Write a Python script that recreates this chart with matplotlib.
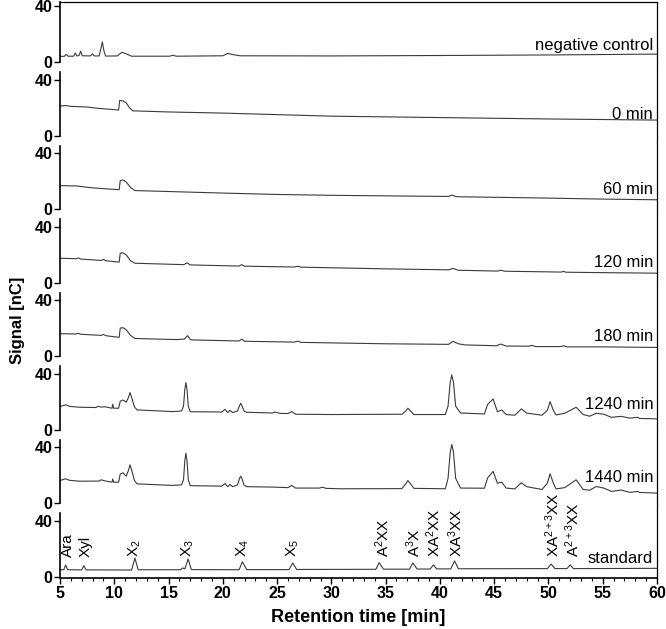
# -*- coding: utf-8 -*-
import matplotlib
matplotlib.use("Agg")
import matplotlib.pyplot as plt

# --- FONTS ---
plt.rcParams["font.family"] = ["Liberation Sans", "DejaVu Sans"]
plt.rcParams["mathtext.fontset"] = "custom"
plt.rcParams["mathtext.rm"] = "Liberation Sans"
plt.rcParams["mathtext.it"] = "Liberation Sans:italic"
plt.rcParams["mathtext.bf"] = "Liberation Sans:bold"

# --- DATA (retention time [min], signal [nC]) ---
rt_neg = [5.0, 5.4, 5.55, 5.75, 6.25, 6.4, 6.55, 6.75, 6.9, 7.05, 7.8, 8.0, 8.15, 8.6, 8.75, 8.9,
          9.05, 9.2, 10.3, 10.5, 10.7, 11.0, 11.6, 15.1, 15.4, 15.7, 20.0, 20.45, 20.9, 21.6,
          30.0, 40.0, 50.0, 60.0]
sig_neg = [4.2, 4.2, 5.6, 4.3, 4.3, 6.6, 4.5, 4.8, 7.8, 4.6, 4.5, 6.0, 4.5, 4.5, 9.0, 14.5,
           8.0, 4.4, 4.5, 6.0, 7.0, 6.3, 4.3, 4.3, 5.0, 4.3, 4.6, 6.3, 5.5, 4.6,
           4.5, 4.8, 5.2, 5.8]

rt_0 = [5.0, 5.5, 6.0, 7.5, 8.5, 10.4, 10.5, 10.8, 11.1, 11.4, 11.7, 15.0, 20.0, 30.0, 40.0,
        50.0, 60.0]
sig_0 = [21.2, 21.6, 21.0, 20.5, 19.6, 18.4, 25.2, 24.9, 23.5, 20.0, 17.8, 17.0, 16.2, 14.0,
         13.0, 12.0, 11.2]

rt_60 = [5.0, 6.5, 8.0, 10.45, 10.55, 10.8, 11.1, 11.5, 11.9, 15.0, 20.0, 25.0, 30.0, 35.0,
         40.8, 41.1, 41.5, 45.0, 50.0, 55.0, 60.0]
sig_60 = [16.9, 16.7, 15.3, 14.0, 20.5, 21.0, 19.5, 15.5, 13.4, 12.7, 11.6, 10.6, 10.0, 9.6,
          9.2, 10.2, 9.0, 8.6, 8.0, 7.3, 6.8]

rt_120 = [5.0, 6.5, 6.7, 6.9, 8.8, 9.0, 9.2, 10.45, 10.55, 10.8, 11.1, 11.5, 11.9, 16.4, 16.7,
          17.0, 21.5, 21.75, 22.0, 26.6, 26.9, 27.2, 35.0, 40.8, 41.2, 41.7, 45.3, 45.6, 46.0,
          51.2, 51.4, 51.6, 55.0, 60.0]
sig_120 = [17.6, 17.2, 17.8, 17.0, 16.0, 16.8, 15.8, 14.8, 21.2, 21.5, 20.0, 15.8, 14.0, 13.0,
           14.3, 12.8, 12.0, 13.0, 11.9, 11.3, 11.9, 11.2, 10.0, 9.3, 10.3, 9.0, 8.4, 9.0, 8.3,
           7.7, 8.2, 7.6, 7.3, 6.9]

rt_180 = [5.0, 6.5, 6.7, 6.9, 8.8, 9.0, 9.2, 10.45, 10.55, 10.8, 11.1, 11.5, 11.9, 15.8, 16.2,
          16.45, 16.75, 17.05, 21.5, 21.75, 22.0, 26.6, 26.9, 27.2, 35.0, 40.8, 41.2, 41.7,
          42.3, 45.2, 45.6, 46.1, 48.2, 48.5, 48.8, 51.1, 51.4, 51.7, 55.0, 60.0]
sig_180 = [16.2, 16.0, 16.5, 15.8, 15.0, 15.7, 14.8, 13.6, 20.2, 20.5, 19.0, 15.0, 12.8, 12.0,
           12.3, 12.3, 14.8, 11.8, 11.0, 12.3, 10.8, 10.2, 10.9, 10.0, 9.0, 8.6, 10.7, 9.0,
           8.2, 7.6, 8.8, 7.4, 7.3, 7.9, 7.0, 7.0, 7.6, 6.8, 6.8, 6.4]

rt_1240 = [5.0, 5.5, 5.9, 6.8, 8.3, 8.5, 8.8, 9.1, 9.8, 9.85, 9.95, 10.4, 10.55, 10.8, 11.1,
           11.3, 11.45, 11.65, 11.85, 12.1, 15.4, 16.2, 16.38, 16.5, 16.6, 16.7, 16.82, 17.0,
           19.9, 20.2, 20.45, 20.65, 20.9, 21.35, 21.55, 21.65, 21.75, 21.95, 22.2, 24.6,
           24.8, 25.3, 26.0, 26.35, 26.7, 30.0, 36.5, 36.85, 37.05, 37.3, 37.6, 40.5, 40.75,
           40.95, 41.1, 41.25, 41.45, 41.9, 44.1, 44.4, 44.9, 45.3, 45.7, 46.1, 46.9, 47.5,
           48.0, 49.4, 49.9, 50.15, 50.45, 50.7, 51.5, 52.55, 53.2, 53.8, 54.4, 55.1, 55.8,
           56.7, 57.5, 58.2, 58.4, 60.0]
sig_1240 = [16.7, 17.9, 16.8, 16.2, 16.0, 16.8, 16.3, 16.6, 15.5, 18.3, 15.5, 15.5, 20.5, 21.4,
            19.8, 23.0, 26.7, 22.0, 16.5, 14.3, 13.1, 13.5, 17.0, 29.0, 33.8, 29.0, 17.0, 13.0,
            12.8, 14.7, 12.4, 14.0, 12.4, 13.5, 17.5, 19.0, 17.5, 13.5, 12.6, 12.1,
            12.8, 11.8, 11.7, 13.1, 11.2, 11.0, 11.2, 13.5, 15.5, 13.5, 11.0, 11.0, 17.0,
            34.0, 39.3, 34.0, 17.0, 12.1, 11.4, 18.3, 22.1, 13.0, 14.3, 11.0, 10.5, 15.0,
            12.0, 10.5, 14.0, 20.2, 14.0, 10.7, 11.9, 16.2, 11.0, 9.8, 11.9, 11.2, 9.0,
            9.7, 8.4, 9.0, 8.2, 7.9]

rt_1440 = [5.0, 5.5, 5.9, 6.8, 8.6, 8.8, 9.1, 9.8, 9.85, 9.95, 10.4, 10.55, 10.8, 11.1, 11.3,
           11.45, 11.65, 11.85, 12.1, 15.4, 16.2, 16.38, 16.5, 16.6, 16.7, 16.82, 17.0, 19.9,
           20.2, 20.45, 20.65, 20.9, 21.35, 21.55, 21.65, 21.75, 21.95, 22.2, 24.6, 26.0,
           26.35, 26.7, 28.9, 29.2, 29.5, 30.8, 36.5, 36.85, 37.05, 37.3, 37.6, 40.5, 40.75,
           40.95, 41.1, 41.25, 41.45, 41.9, 44.1, 44.4, 44.9, 45.3, 45.7, 46.1, 46.9, 47.5,
           48.0, 49.4, 49.9, 50.15, 50.45, 50.7, 51.5, 52.55, 53.2, 53.8, 54.4, 55.1, 55.8,
           56.7, 57.5, 58.2, 58.4, 60.0]
sig_1440 = [16.4, 17.6, 16.5, 15.9, 16.0, 16.9, 16.2, 15.2, 17.5, 15.2, 15.2, 21.0, 21.9, 19.5,
            23.5, 27.6, 22.5, 16.5, 14.0, 12.9, 13.3, 17.0, 30.5, 35.9, 30.5, 17.0, 12.7, 12.4,
            14.2, 12.0, 13.5, 12.0, 13.2, 18.0, 19.5, 18.0, 13.2, 12.0, 11.7, 11.3,
            12.9, 11.0, 11.0, 11.6, 10.8, 10.5, 10.6, 14.0, 16.4, 14.0, 10.8, 10.5, 18.0,
            36.5, 42.1, 36.5, 18.0, 11.0, 10.9, 18.3, 22.9, 14.5, 15.2, 11.0, 10.4, 14.8,
            12.0, 10.0, 14.5, 21.2, 14.5, 10.4, 11.3, 16.9, 10.0, 9.5, 12.1, 11.0, 8.6,
            9.6, 7.9, 8.6, 7.9, 7.4]

rt_std = [5.0, 5.35, 5.52, 5.7, 7.0, 7.2, 7.4, 11.6, 11.9, 12.2, 16.1, 16.3, 16.5, 16.8, 17.1,
          21.5, 21.8, 22.2, 26.1, 26.45, 26.8, 34.1, 34.4, 34.8, 37.2, 37.5, 37.9, 39.1, 39.4,
          39.7, 41.0, 41.35, 41.7, 49.9, 50.25, 50.6, 51.7, 52.0, 52.3, 60.0]
sig_std = [5.2, 5.2, 8.6, 5.2, 5.1, 8.1, 5.1, 5.0, 13.6, 5.2, 5.2, 6.5, 5.8, 12.9, 5.3,
           5.2, 10.9, 5.3, 5.3, 10.0, 5.4, 5.5, 10.3, 5.6, 5.6, 10.0, 5.7, 5.7, 8.6,
           5.8, 5.8, 11.5, 5.9, 6.0, 9.2, 6.0, 6.0, 8.6, 6.0, 6.2]

traces = [(rt_neg, sig_neg), (rt_0, sig_0), (rt_60, sig_60), (rt_120, sig_120),
          (rt_180, sig_180), (rt_1240, sig_1240), (rt_1440, sig_1440), (rt_std, sig_std)]
sample_labels = ["negative control", "0 min", "60 min", "120 min", "180 min",
                 "1240 min", "1440 min", "standard"]
label_y = [9.0, 12.0, 10.7, 11.4, 10.7, 15.0, 15.0, 10.0]

# standard peak names
std_names = ["Ara", "Xyl", "X$_\\mathregular{2}$", "X$_\\mathregular{3}$", "X$_\\mathregular{4}$",
             "X$_\\mathregular{5}$", "A$^\\mathregular{2}$XX", "A$^\\mathregular{3}$X",
             "XA$^\\mathregular{2}$XX", "XA$^\\mathregular{3}$XX", "XA$^\\mathregular{2+3}$XX",
             "A$^\\mathregular{2+3}$XX"]
std_pos = [5.7, 7.4, 11.9, 16.8, 21.8, 26.45, 34.7, 37.6, 39.45, 41.45, 50.4, 52.2]

# --- PLOT ---
fig = plt.figure(figsize=(6.66, 6.29), dpi=100)
gs = fig.add_gridspec(8, 1, height_ratios=[43.7] + [52.5] * 7, hspace=0,
                      left=60 / 666, right=657 / 666, top=1 - 2 / 629, bottom=1 - 578 / 629)

line_col = "#3a3a3a"
for i, (rt, sig) in enumerate(traces):
    ax = fig.add_subplot(gs[i])
    ax.plot(rt, sig, color=line_col, lw=0.8)
    ax.set_xlim(5, 60)
    if i == 0:
        ax.set_ylim(-0.7, 43)
        ax.spines["left"].set_bounds(0, 43)
    else:
        ax.set_ylim(-0.7, 51.8)
        ax.spines["left"].set_bounds(0, 45.5)
    ax.set_yticks([0, 40])
    ax.spines["left"].set_linewidth(1.2)
    ax.spines["right"].set_linewidth(0.9)
    ax.spines["top"].set_linewidth(0.9)
    ax.spines["top"].set_visible(i == 0)
    ax.spines["bottom"].set_visible(i == 7)
    ax.spines["bottom"].set_linewidth(1.2)
    ax.tick_params(axis="y", direction="out", length=4, width=1.0, pad=1.5, labelsize=11.5)
    for lab in ax.get_yticklabels():
        lab.set_fontweight("bold")
    ax.text(59.65, label_y[i], sample_labels[i], ha="right", va="baseline", fontsize=12)
    if i < 7:
        ax.tick_params(axis="x", which="both", bottom=False, labelbottom=False)
    else:
        ax.set_xticks(range(5, 61, 5))
        ax.set_xticks(range(5, 61, 1), minor=True)
        ax.tick_params(axis="x", which="major", direction="out", length=4, width=1.0,
                       pad=2, labelsize=11.5)
        ax.tick_params(axis="x", which="minor", direction="out", length=2.5, width=0.8)
        for lab in ax.get_xticklabels():
            lab.set_fontweight("bold")
        for name, x in zip(std_names, std_pos):
            ax.text(x, 14.5, name, rotation=90, ha="center", va="bottom", fontsize=11,
                    clip_on=False)

fig.text(18 / 666, 1 - 320 / 629, "Signal [nC]", rotation=90, ha="center", va="center",
         fontsize=12, fontweight="bold")
fig.text(358 / 666, 1 - 618 / 629, "Retention time [min]", ha="center", va="center",
         fontsize=13, fontweight="bold")

plt.savefig("out.png", dpi=100)
